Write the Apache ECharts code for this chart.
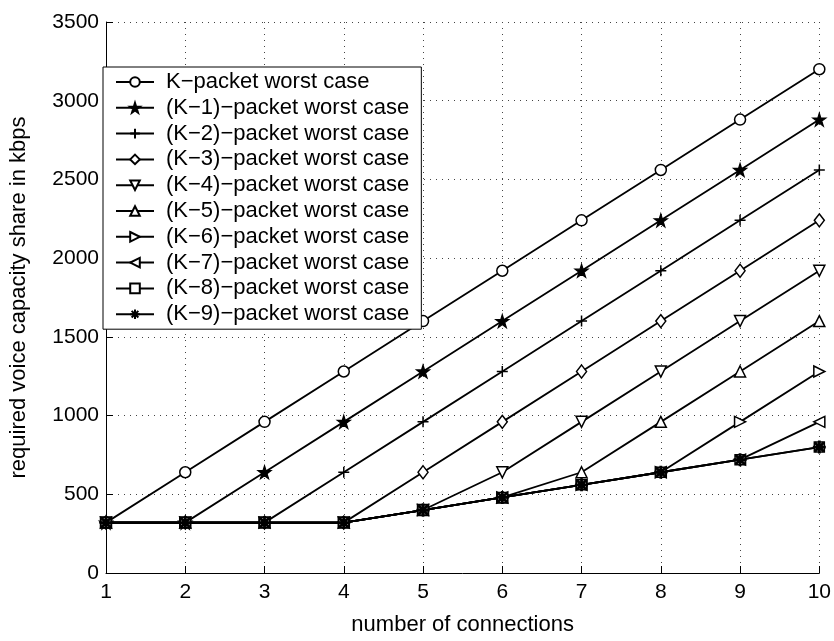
<!DOCTYPE html>
<html>
<head>
<meta charset="utf-8">
<script src="https://cdn.jsdelivr.net/npm/echarts@6/dist/echarts.min.js"></script>
<style>
  html, body { margin: 0; padding: 0; background: #fff; }
  #chart { width: 834px; height: 641px; }
</style>
</head>
<body>
<div id="chart"></div>
<script>
// number of connections on the x axis
const connections = [1, 2, 3, 4, 5, 6, 7, 8, 9, 10];

// y-axis tick labels (kbps)
const yTicks = [0, 500, 1000, 1500, 2000, 2500, 3000, 3500];

// required voice capacity share (kbps) per worst-case scenario
const kPacket  = [320, 640, 960, 1280, 1600, 1920, 2240, 2560, 2880, 3200];
const kMinus1  = [320, 320, 640, 960, 1280, 1600, 1920, 2240, 2560, 2880];
const kMinus2  = [320, 320, 320, 640, 960, 1280, 1600, 1920, 2240, 2560];
const kMinus3  = [320, 320, 320, 320, 640, 960, 1280, 1600, 1920, 2240];
const kMinus4  = [320, 320, 320, 320, 400, 640, 960, 1280, 1600, 1920];
const kMinus5  = [320, 320, 320, 320, 400, 480, 640, 960, 1280, 1600];
const kMinus6  = [320, 320, 320, 320, 400, 480, 560, 640, 960, 1280];
const kMinus7  = [320, 320, 320, 320, 400, 480, 560, 640, 720, 960];
const kMinus8  = [320, 320, 320, 320, 400, 480, 560, 640, 720, 800];
const kMinus9  = [320, 320, 320, 320, 400, 480, 560, 640, 720, 800];

const seriesNames = [
  'K\u2212packet worst case',
  '(K\u22121)\u2212packet worst case',
  '(K\u22122)\u2212packet worst case',
  '(K\u22123)\u2212packet worst case',
  '(K\u22124)\u2212packet worst case',
  '(K\u22125)\u2212packet worst case',
  '(K\u22126)\u2212packet worst case',
  '(K\u22127)\u2212packet worst case',
  '(K\u22128)\u2212packet worst case',
  '(K\u22129)\u2212packet worst case'
];
const seriesValues = [kPacket, kMinus1, kMinus2, kMinus3, kMinus4, kMinus5, kMinus6, kMinus7, kMinus8, kMinus9];

// marker shapes
const STAR = 'path://M5,0 L6.18,3.62 L10,3.62 L6.91,5.86 L8.09,9.51 L5,7.27 L1.91,9.51 L3.09,5.86 L0,3.62 L3.82,3.62 Z';
const PLUS = 'path://M5,0 L5,10 M0,5 L10,5';
const TRI_DOWN = 'path://M0,0 L10,0 L5,10 Z';
const TRI_UP = 'path://M5,0 L10,10 L0,10 Z';
const TRI_RIGHT = 'path://M0,0 L10,5 L0,10 Z';
const TRI_LEFT = 'path://M10,0 L0,5 L10,10 Z';
const ASTERISK = 'path://M5,0 L5,10 M0,5 L10,5 M1.5,1.5 L8.5,8.5 M1.5,8.5 L8.5,1.5';

const markerStyles = [
  { symbol: 'circle',  size: 11, fill: '#fff', stroke: 1.5 },
  { symbol: STAR,      size: 13, fill: '#000', stroke: 1.2 },
  { symbol: PLUS,      size: 11, fill: 'none', stroke: 1.5 },
  { symbol: 'diamond', size: [10, 13], fill: '#fff', stroke: 1.5 },
  { symbol: TRI_DOWN,  size: 11, fill: '#fff', stroke: 1.5 },
  { symbol: TRI_UP,    size: 11, fill: '#fff', stroke: 1.5 },
  { symbol: TRI_RIGHT, size: 11, fill: '#fff', stroke: 1.5 },
  { symbol: TRI_LEFT,  size: 11, fill: '#fff', stroke: 1.5 },
  { symbol: 'rect',    size: 10, fill: '#fff', stroke: 1.5 },
  { symbol: ASTERISK,  size: 13, fill: 'none', stroke: 2.8 }
];

const FONT = '"Liberation Sans", Arial, Helvetica, sans-serif';

const series = seriesNames.map((name, i) => ({
  name: name,
  type: 'line',
  data: connections.map((x, j) => [x, seriesValues[i][j]]),
  symbol: markerStyles[i].symbol,
  symbolSize: markerStyles[i].size,
  showAllSymbol: true,
  animation: false,
  lineStyle: { color: '#000', width: 1.8 },
  itemStyle: {
    color: markerStyles[i].fill,
    borderColor: '#000',
    borderWidth: markerStyles[i].stroke
  },
  emphasis: { disabled: true }
}));

const chart = echarts.init(document.getElementById('chart'), null, { renderer: 'canvas' });
chart.setOption({
  backgroundColor: '#fff',
  animation: false,
  textStyle: { fontFamily: FONT, color: '#000' },
  grid: { left: 105, right: 14, top: 22, bottom: 56 },
  legend: {
    orient: 'vertical',
    left: 103,
    top: 67,
    padding: [4, 12, 4, 12],
    itemWidth: 38,
    itemHeight: 12,
    itemGap: 3.8,
    backgroundColor: '#fff',
    borderColor: '#000',
    borderWidth: 1,
    borderRadius: 0,
    selectedMode: false,
    textStyle: { fontFamily: FONT, fontSize: 22, color: '#000', lineHeight: 22, padding: [0, 0, 0, 7] },
    data: seriesNames
  },
  xAxis: {
    type: 'value',
    min: connections[0],
    max: connections[connections.length - 1],
    interval: 1,
    name: 'number of connections',
    nameLocation: 'middle',
    nameGap: 41,
    nameTextStyle: { fontFamily: FONT, fontSize: 22, color: '#000' },
    axisLine: { show: true, lineStyle: { color: '#000', width: 1 } },
    axisTick: { show: true, inside: true, length: 7, lineStyle: { color: '#000' } },
    axisLabel: { fontFamily: FONT, fontSize: 21, color: '#000', margin: 9 },
    splitLine: { show: true, lineStyle: { color: '#444', width: 1, type: [1, 5] } }
  },
  yAxis: {
    type: 'value',
    min: yTicks[0],
    max: yTicks[yTicks.length - 1],
    interval: 500,
    name: 'required voice capacity share in kbps',
    nameLocation: 'middle',
    nameGap: 76,
    nameTextStyle: { fontFamily: FONT, fontSize: 22, color: '#000' },
    axisLine: { show: true, lineStyle: { color: '#000', width: 1 } },
    axisTick: { show: true, inside: true, length: 7, lineStyle: { color: '#000' } },
    axisLabel: { fontFamily: FONT, fontSize: 21, color: '#000', margin: 7, formatter: v => String(v) },
    splitLine: { show: true, lineStyle: { color: '#444', width: 1, type: [1, 5] } }
  },
  series: series
});
</script>
</body>
</html>
